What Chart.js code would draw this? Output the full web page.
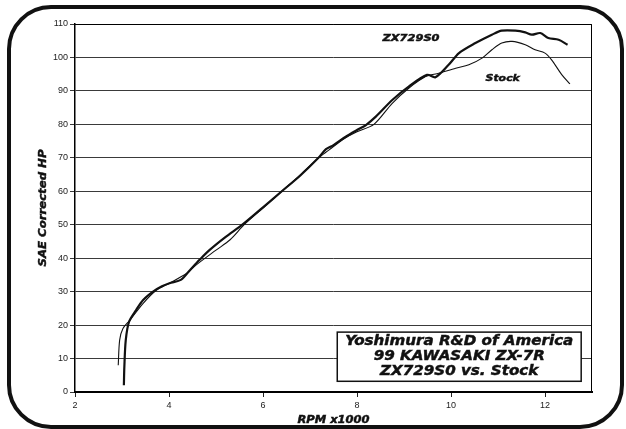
<!DOCTYPE html>
<html lang="en">
<head>
<meta charset="UTF-8" />
<title>99 Kawasaki ZX-7R dyno</title>
<script src="https://cdn.jsdelivr.net/npm/chart.js"></script>
<style>
  body { margin: 0; background: #fff; }
  .wrap { position: relative; width: 626px; height: 429px; overflow: hidden; }
  .frame {
    position: absolute; left: 7px; top: 5px; width: 609px; height: 416px;
    border: 4px solid #111; border-radius: 44px; pointer-events: none;
  }
  canvas { position: absolute; left: 0; top: 0; }
</style>
</head>
<body>
<div class="wrap">
  <canvas id="dyno" width="626" height="429"></canvas>
  <div class="frame"></div>
</div>
<script>
// ZX729S0 (thick line)
const zxRpm = [3.04, 3.05, 3.08, 3.15, 3.3, 3.45, 3.66, 3.85, 4.01, 4.26, 4.45, 4.65, 4.86, 5.2, 5.56, 6.0, 6.4, 6.8, 7.18, 7.34, 7.5, 7.76, 8.0, 8.19, 8.4, 8.75, 9.1, 9.49, 9.67, 9.95, 10.17, 10.52, 10.87, 11.08, 11.37, 11.58, 11.72, 11.9, 12.07, 12.29, 12.48];
const zxHp = [2, 7.5, 15.5, 21, 24.5, 27.5, 30, 31.6, 32.5, 33.6, 36.5, 39.5, 42.4, 46.3, 50, 55.2, 60, 64.8, 70, 72.6, 73.8, 76.3, 78.3, 79.8, 82.3, 87.3, 91.3, 94.8, 94.1, 97.8, 101.3, 104.3, 106.8, 108, 108, 107.5, 106.8, 107.3, 105.8, 105.3, 103.8];

// Stock (thin line)
const stockRpm = [2.92, 2.95, 3.02, 3.17, 3.45, 3.73, 4.01, 4.37, 4.58, 5.0, 5.3, 5.6, 6.0, 6.4, 6.8, 7.18, 7.4, 7.7, 8.0, 8.36, 8.75, 9.1, 9.46, 9.74, 10.1, 10.38, 10.66, 10.87, 11.08, 11.3, 11.58, 11.79, 12.0, 12.14, 12.36, 12.53];
const stockHp = [8, 15.5, 19, 21.5, 26.5, 30.4, 32.5, 35.4, 38, 42.4, 45.5, 50, 55, 60, 65, 70, 72.3, 75.5, 77.8, 80, 86.3, 90.8, 94.3, 95.3, 96.8, 97.8, 99.8, 102.3, 104.3, 104.8, 103.8, 102.3, 101.3, 99.3, 94.8, 92.1];

const xTicks = [2, 4, 6, 8, 10, 12];
const seriesNames = ["ZX729S0", "Stock"];
const axisTitles = ["RPM x1000", "SAE Corrected HP"];
const boxLines = ["Yoshimura R&D of America", "99 KAWASAKI ZX-7R", "ZX729S0 vs. Stock"];

const toPoints = (xs, ys) => xs.map((x, i) => ({ x: x, y: ys[i] }));

// bold italic text stretched sideways (the original uses a wide, heavy face)
function wideText(ctx, text, x, y, size, stretch, rot) {
  ctx.save();
  ctx.translate(x, y);
  if (rot) ctx.rotate(rot);
  ctx.scale(stretch, 1);
  ctx.font = "italic bold " + size + "px 'DejaVu Sans'";
  ctx.textAlign = "center";
  ctx.textBaseline = "middle";
  ctx.fillStyle = "#111";
  ctx.strokeStyle = "#111";
  ctx.lineWidth = 0.45;
  ctx.fillText(text, 0, 0);
  ctx.strokeText(text, 0, 0);
  ctx.restore();
}

const overlay = {
  id: "overlay",
  afterDatasetsDraw(chart) {
    const { ctx, chartArea: a, scales: { x, y } } = chart;
    ctx.save();
    ctx.strokeStyle = "#000";
    ctx.lineWidth = 1;
    ctx.beginPath();
    ctx.moveTo(a.left, a.top + 0.5);
    ctx.lineTo(a.right - 0.5, a.top + 0.5);
    ctx.lineTo(a.right - 0.5, a.bottom);
    ctx.stroke();

    // axis titles
    wideText(ctx, axisTitles[0], (a.left + a.right) / 2, 420, 10, 1.15);
    wideText(ctx, axisTitles[1], 43, (a.top + a.bottom) / 2, 10, 1.17, -Math.PI / 2);

    // series labels
    wideText(ctx, seriesNames[0], x.getPixelForValue(9.15), y.getPixelForValue(105.6), 9.5, 1.2);
    wideText(ctx, seriesNames[1], x.getPixelForValue(11.1), y.getPixelForValue(93.6), 9.5, 1.15);

    // caption box
    const bx = x.getPixelForValue(7.58), bx2 = x.getPixelForValue(12.77);
    const by = y.getPixelForValue(17.9), by2 = y.getPixelForValue(3.2);
    ctx.fillStyle = "#fff";
    ctx.fillRect(bx, by, bx2 - bx, by2 - by);
    ctx.lineWidth = 1.5;
    ctx.strokeStyle = "#111";
    ctx.strokeRect(bx, by, bx2 - bx, by2 - by);
    const cx = (bx + bx2) / 2;
    wideText(ctx, boxLines[0], cx, by + 9, 13.5, 1.12);
    wideText(ctx, boxLines[1], cx, by + 24, 13.5, 1.12);
    wideText(ctx, boxLines[2], cx, by + 39, 13.5, 1.12);
    ctx.restore();
  }
};

new Chart(document.getElementById("dyno"), {
  type: "line",
  data: {
    datasets: [
      {
        label: seriesNames[1],
        data: toPoints(stockRpm, stockHp),
        borderColor: "#111",
        borderWidth: 1.1,
        tension: 0.3,
        pointRadius: 0,
        fill: false,
      },
      {
        label: seriesNames[0],
        data: toPoints(zxRpm, zxHp),
        borderColor: "#111",
        borderWidth: 2.2,
        tension: 0.3,
        pointRadius: 0,
        fill: false,
      },
    ],
  },
  options: {
    responsive: false,
    animation: false,
    layout: { padding: { left: 0, top: 24, right: 34, bottom: 0 } },
    plugins: { legend: { display: false }, tooltip: { enabled: false } },
    scales: {
      x: {
        type: "linear",
        min: 2,
        max: 13,
        afterFit(s) { s.height = 37; },
        afterBuildTicks(s) { s.ticks = xTicks.map((v) => ({ value: v })); },
        grid: { drawOnChartArea: false, tickLength: 5, color: "#222" },
        border: { color: "#000", width: 2 },
        ticks: { font: { family: "Liberation Sans", size: 9 }, color: "#222", padding: 3, maxRotation: 0 },
      },
      y: {
        min: 0,
        max: 110,
        afterFit(s) { s.width = 75; },
        grid: { color: "#3a3a3a", tickLength: 5 },
        border: { color: "#000", width: 1.5 },
        ticks: { stepSize: 10, font: { family: "Liberation Sans", size: 9 }, color: "#222", padding: 2 },
      },
    },
  },
  plugins: [overlay],
});
</script>
</body>
</html>
